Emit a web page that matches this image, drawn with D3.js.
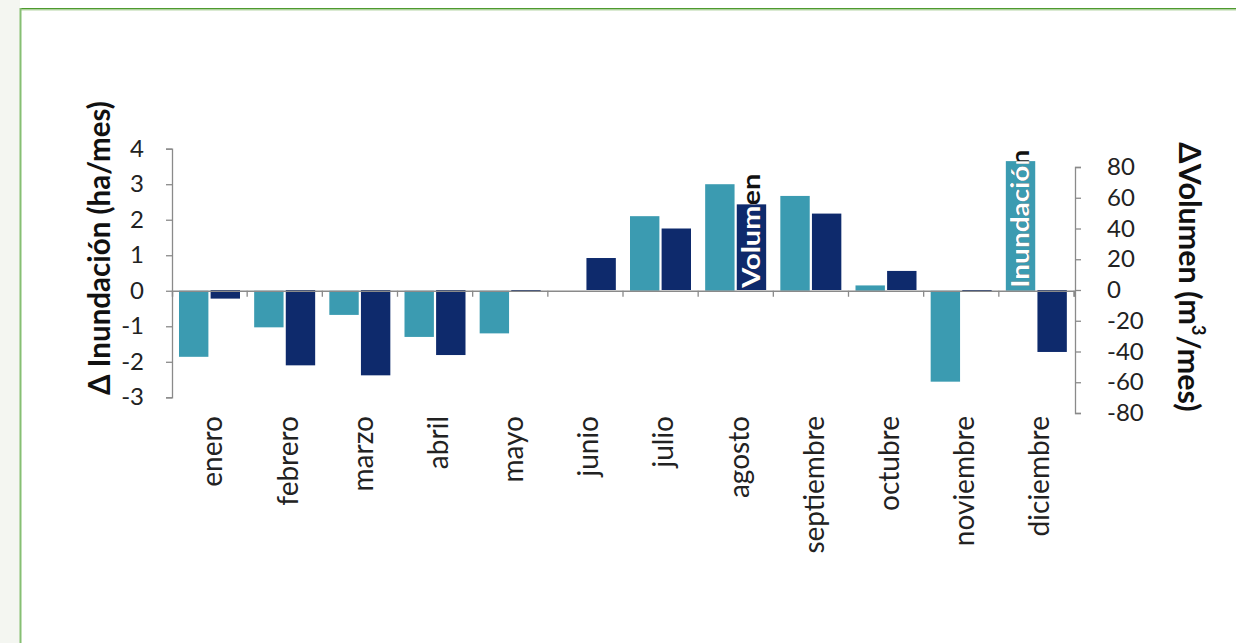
<!DOCTYPE html>
<html>
<head>
<meta charset="utf-8">
<script src="https://cdn.jsdelivr.net/npm/d3@7"></script>
<style>
  html, body { margin: 0; padding: 0; background: #ffffff; }
  svg { display: block; }
  text { font-family: Lato, "Open Sans", sans-serif; }
</style>
</head>
<body>
<svg id="chart" width="1236" height="643"></svg>
<script>
const months = ["enero","febrero","marzo","abril","mayo","junio","julio","agosto","septiembre","octubre","noviembre","diciembre"];
const inundacion = [-1.86, -1.03, -0.68, -1.30, -1.20, 0, 2.10, 3.00, 2.67, 0.15, -2.56, 3.65];
const volumen = [-5.6, -49, -55.5, -42.3, -1.3, 20.8, 40, 55.7, 49.7, 12.4, -1.3, -40.3];
const leftTicks = [-3, -2, -1, 0, 1, 2, 3, 4];
const rightTicks = [-80, -60, -40, -20, 0, 20, 40, 60, 80];
const leftTitle = "Δ Inundación (ha/mes)";
const rightTitleParts = ["ΔVolumen (m", "3", "/mes)"];
const seriesNames = ["Inundación", "Volumen"];

const colLight = "#3b9bb1";
const colDark = "#0e2a6c";
const axisCol = "#8a8a8a";

const svg = d3.select("#chart");

// page frame
svg.append("rect").attr("x", 0).attr("y", 0).attr("width", 20).attr("height", 643).attr("fill", "#f4f6f1");
svg.append("rect").attr("x", 20).attr("y", 8).attr("width", 1216).attr("height", 1.5).attr("fill", "#4e9a2e");
svg.append("rect").attr("x", 20).attr("y", 9.5).attr("width", 1216).attr("height", 1).attr("fill", "#b5d6a6");
svg.append("rect").attr("x", 19.5).attr("y", 8).attr("width", 2).attr("height", 635).attr("fill", "#86bf73");

const x0 = d3.scaleBand().domain(months).range([172, 1074]).paddingInner(0).paddingOuter(0);
const x1 = d3.scaleBand().domain(seriesNames).range([7, 68]).paddingInner(0.07);
const yL = d3.scaleLinear().domain([-3, 4]).range([397.3, 148.7]);
const yR = d3.scaleLinear().domain([-80, 80]).range([413, 167]);

// bars
const g = svg.append("g");
months.forEach((m, i) => {
  const vi = inundacion[i];
  const vv = volumen[i];
  g.append("rect")
    .attr("id", "bL" + i)
    .attr("x", x0(m) + x1("Inundación"))
    .attr("width", x1.bandwidth())
    .attr("y", Math.min(yL(vi), yL(0)))
    .attr("height", Math.abs(yL(vi) - yL(0)))
    .attr("fill", colLight);
  g.append("rect")
    .attr("id", "bD" + i)
    .attr("x", x0(m) + x1("Volumen"))
    .attr("width", x1.bandwidth())
    .attr("y", Math.min(yR(vv), yR(0)))
    .attr("height", Math.abs(yR(vv) - yR(0)))
    .attr("fill", colDark);
});

const fmt = d => String(d);

// left axis
const axL = d3.axisLeft(yL).tickValues(leftTicks).tickSize(6).tickPadding(22).tickFormat(fmt);
const gL = svg.append("g").attr("transform", "translate(172,0)").call(axL);
gL.select(".domain").attr("stroke", axisCol).attr("stroke-width", 1.3);
gL.selectAll(".tick line").attr("stroke", axisCol).attr("stroke-width", 1.3);
gL.selectAll(".tick text").attr("font-size", 24).attr("fill", "#222").attr("font-family", "Lato, sans-serif");

// right axis
const axR = d3.axisRight(yR).tickValues(rightTicks).tickSize(6).tickPadding(26).tickFormat(fmt);
const gR = svg.append("g").attr("transform", "translate(1075,0)").call(axR);
gR.select(".domain").attr("stroke", axisCol).attr("stroke-width", 1.3);
gR.selectAll(".tick line").attr("stroke", axisCol).attr("stroke-width", 1.3);
gR.selectAll(".tick text").attr("font-size", 24).attr("fill", "#222").attr("font-family", "Lato, sans-serif");

// x axis (zero line) with category boundary ticks
const zeroY = yL(0);
const axX = d3.axisBottom(x0).tickSize(6).tickFormat("");
const gX = svg.append("g").attr("transform", `translate(0,${zeroY})`).call(axX);
gX.select(".domain").attr("stroke", axisCol).attr("stroke-width", 1.5);
gX.selectAll(".tick").attr("transform", d => `translate(${x0(d) + x0.bandwidth()},0)`);
gX.selectAll(".tick line").attr("stroke", axisCol).attr("stroke-width", 1.3);

// category labels (rotated)
svg.append("g").selectAll("text").data(months).join("text")
  .attr("transform", d => `translate(${x0(d) + x0.bandwidth() / 2 + 3},416) rotate(-90)`)
  .attr("text-anchor", "end")
  .attr("dy", "0.35em")
  .attr("font-size", 28)
  .attr("fill", "#222")
  .text(d => d);

// axis titles
svg.append("text")
  .attr("transform", "translate(100,248) rotate(-90)")
  .attr("text-anchor", "middle")
  .attr("dy", "0.35em")
  .attr("font-size", 29.5)
  .attr("font-weight", "bold")
  .attr("fill", "#111")
  .text(leftTitle);

const rt = svg.append("text")
  .attr("transform", "translate(1190,277) rotate(90)")
  .attr("text-anchor", "middle")
  .attr("dy", "0.35em")
  .attr("font-size", 30.5)
  .attr("font-weight", "bold")
  .attr("fill", "#111");
rt.append("tspan").text(rightTitleParts[0]);
rt.append("tspan").attr("font-size", 18).attr("dy", "-0.7em").text(rightTitleParts[1]);
rt.append("tspan").attr("dy", "0.45em").text(rightTitleParts[2]);

// in-bar series labels: black text, white copy clipped to the bar
function barLabel(name, barId, idx, x, len) {
  const bar = svg.select("#" + barId);
  const clipId = "clip" + idx;
  svg.append("clipPath").attr("id", clipId).append("rect")
    .attr("x", +bar.attr("x")).attr("y", +bar.attr("y"))
    .attr("width", +bar.attr("width")).attr("height", +bar.attr("height"));
  const mk = (fill, clip) => {
    const holder = svg.append("g");
    if (clip) holder.attr("clip-path", `url(#${clipId})`);
    holder.append("text")
      .attr("transform", `translate(${x},${zeroY - 3}) rotate(-90)`)
      .attr("text-anchor", "start")
      .attr("dy", "0.35em")
      .attr("font-size", 24)
      .attr("font-weight", "bold")
      .attr("textLength", len)
      .attr("lengthAdjust", "spacingAndGlyphs")
      .attr("fill", fill)
      .text(name);
  };
  mk("#111", false);
  mk("#ffffff", true);
}
const iAg = months.indexOf("agosto");
const iDic = months.indexOf("diciembre");
barLabel(seriesNames[1], "bD" + iAg, 0, x0("agosto") + x1("Volumen") + x1.bandwidth() / 2, 114);
barLabel(seriesNames[0], "bL" + iDic, 1, x0("diciembre") + x1("Inundación") + x1.bandwidth() / 2, 138);
</script>
</body>
</html>
